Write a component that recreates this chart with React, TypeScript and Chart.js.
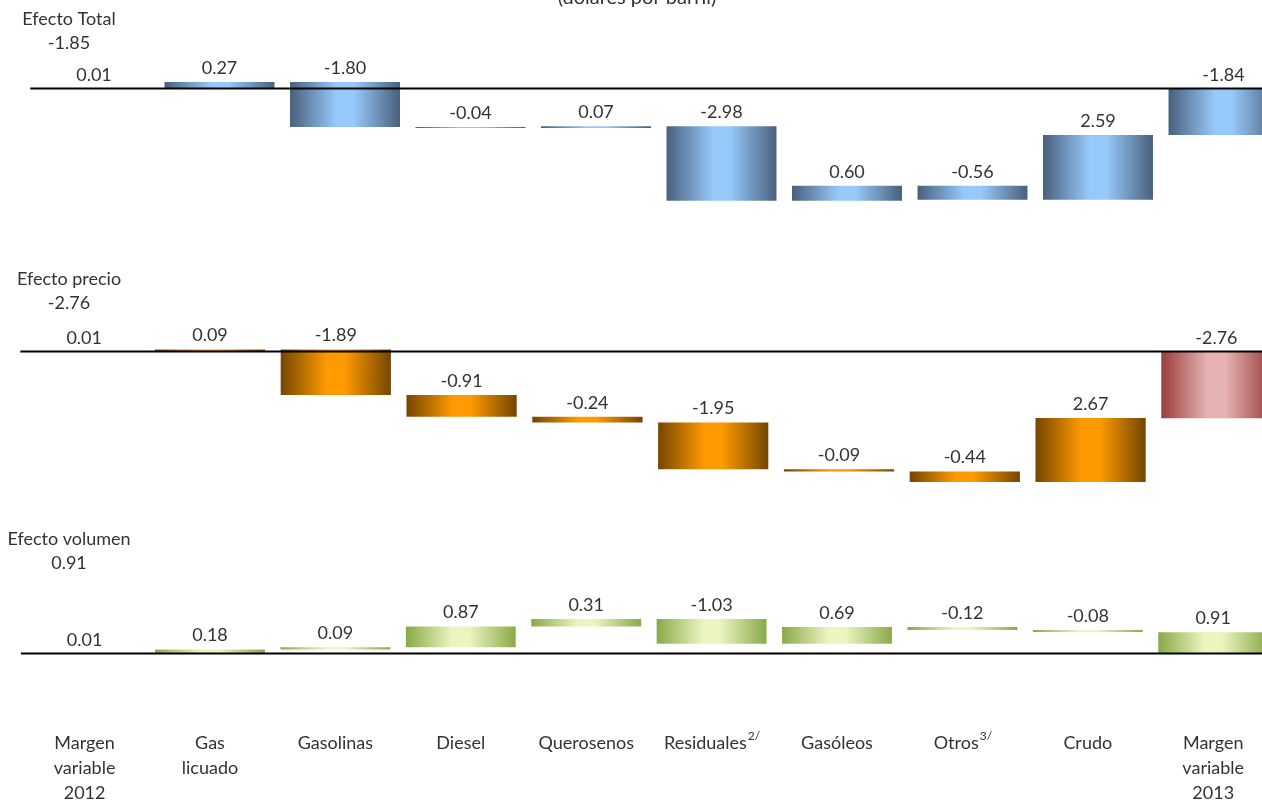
import React, { useEffect, useRef } from "react";
import { Chart, registerables } from "chart.js";

Chart.register(...registerables);

// ---------- data ----------
const categories: string[][] = [
  ["Margen", "variable", "2012"],
  ["Gas", "licuado"],
  ["Gasolinas"],
  ["Diesel"],
  ["Querosenos"],
  ["Residuales"],
  ["Gasóleos"],
  ["Otros"],
  ["Crudo"],
  ["Margen", "variable", "2013"],
];
const categorySuperscripts = ["", "", "", "", "", "2/", "", "3/", "", ""];

const totalEffect = [0.01, 0.27, -1.8, -0.04, 0.07, -2.98, 0.6, -0.56, 2.59, -1.84];
const priceEffect = [0.01, 0.09, -1.89, -0.91, -0.24, -1.95, -0.09, -0.44, 2.67, -2.76];
const volumeEffect = [0.01, 0.18, 0.09, 0.87, 0.31, -1.03, 0.69, -0.12, -0.08, 0.91];

const panelTitles = ["Efecto Total", "Efecto precio", "Efecto volumen"];
const panelTotals = ["-1.85", "-2.76", "0.91"];
const chartSubtitle = "(dólares por barril)";

// ---------- styling ----------
const FONT = "Lato, 'Open Sans', sans-serif";
const TEXT_COLOR = "#333333";
const BAR_PCT = 0.876;
const CANVAS_W = 1300;

function waterfallRanges(values: number[]): [number, number][] {
  const out: [number, number][] = [];
  let cum = 0;
  values.forEach((v, i) => {
    if (i === 0 || i === values.length - 1) {
      out.push([0, v]);
      cum = v;
    } else {
      out.push([cum, cum + v]);
      cum = cum + v;
    }
  });
  return out;
}

type PanelProps = {
  top: number;
  height: number;
  padLeft: number;
  plotWidth: number;
  yMin: number;
  yMax: number;
  values: number[];
  title: string;
  total: string;
  colors: [string, string];
  lastColors?: [string, string];
  showCategories?: boolean;
  showSubtitle?: boolean;
};

function Panel(p: PanelProps) {
  const ref = useRef<HTMLCanvasElement>(null);

  useEffect(() => {
    if (!ref.current) return;
    const ranges = waterfallRanges(p.values);
    const pairFor = (idx: number) =>
      p.lastColors && idx === p.values.length - 1 ? p.lastColors : p.colors;

    // scriptable so that each bar gets its own options object
    const baseColor = (c: any) => pairFor(c.dataIndex ?? 0)[1];

    const gradientPlugin = {
      id: "barGradients",
      beforeDatasetsDraw(chart: any) {
        const ctx = chart.ctx;
        const meta = chart.getDatasetMeta(0);
        meta.data.forEach((el: any, i: number) => {
          const half = el.width / 2;
          if (!Number.isFinite(el.x) || !Number.isFinite(half)) return;
          const pair = pairFor(i);
          const g = ctx.createLinearGradient(el.x - half, 0, el.x + half, 0);
          g.addColorStop(0, pair[0]);
          g.addColorStop(0.42, pair[1]);
          g.addColorStop(0.58, pair[1]);
          g.addColorStop(1, pair[0]);
          el.options.backgroundColor = g;
        });
      },
    };

    const textPlugin = {
      id: "panelText",
      afterDatasetsDraw(chart: any) {
        const ctx = chart.ctx;
        const xs = chart.scales.x;
        const ys = chart.scales.y;
        const area = chart.chartArea;
        const y0 = ys.getPixelForValue(0);
        ctx.save();
        ctx.strokeStyle = "#000";
        ctx.lineWidth = 2;
        ctx.beginPath();
        ctx.moveTo(area.left - 1, y0 - 0.5);
        ctx.lineTo(area.right, y0 - 0.5);
        ctx.stroke();

        ctx.fillStyle = TEXT_COLOR;
        ctx.textAlign = "center";
        ctx.textBaseline = "middle";
        ctx.font = `18px ${FONT}`;

        ctx.fillText(p.title, 69, 19);
        ctx.fillText(p.total, 69, 43);

        const meta = chart.getDatasetMeta(0);
        meta.data.forEach((el: any, i: number) => {
          const topY = Math.min(el.y, el.base);
          ctx.fillText(p.values[i].toFixed(2), el.x, topY - 14);
        });

        if (p.showSubtitle) {
          ctx.font = `20px ${FONT}`;
          ctx.textBaseline = "alphabetic";
          ctx.fillText(chartSubtitle, 637, 4);
        }

        if (p.showCategories) {
          ctx.textBaseline = "middle";
          categories.forEach((lines, i) => {
            const cx = xs.getPixelForValue(i);
            lines.forEach((line, li) => {
              const y = 223 + li * 25;
              const sup = li === lines.length - 1 ? categorySuperscripts[i] : "";
              ctx.font = `18px ${FONT}`;
              const w1 = ctx.measureText(line).width;
              ctx.font = `12px ${FONT}`;
              const w2 = sup ? ctx.measureText(sup).width : 0;
              const start = cx - (w1 + w2) / 2;
              ctx.textAlign = "left";
              ctx.font = `18px ${FONT}`;
              ctx.fillText(line, start, y);
              if (sup) {
                ctx.font = `12px ${FONT}`;
                ctx.fillText(sup, start + w1 + 1, y - 7);
              }
            });
          });
        }
        ctx.restore();
      },
    };

    const chart = new Chart(ref.current, {
      type: "bar",
      data: {
        labels: categories.map((c) => c.join(" ")),
        datasets: [
          {
            data: ranges as any,
            backgroundColor: baseColor as any,
            borderWidth: 0,
            barPercentage: BAR_PCT,
            categoryPercentage: 1,
          },
        ],
      },
      options: {
        animation: false,
        responsive: true,
        maintainAspectRatio: false,
        layout: {
          padding: {
            left: p.padLeft,
            right: CANVAS_W - p.padLeft - p.plotWidth,
            top: 0,
            bottom: 0,
          },
        },
        plugins: {
          legend: { display: false },
          tooltip: { enabled: false },
          title: { display: false },
        },
        scales: {
          x: { type: "category", display: false, offset: true },
          y: { type: "linear", display: false, min: p.yMin, max: p.yMax },
        },
      },
      plugins: [gradientPlugin, textPlugin],
    });
    return () => chart.destroy();
  }, []);

  return (
    <div
      style={{
        position: "absolute",
        left: 0,
        top: p.top,
        width: CANVAS_W,
        height: p.height,
      }}
    >
      <canvas ref={ref} />
    </div>
  );
}

export default function App() {
  return (
    <div
      style={{
        position: "fixed",
        left: 0,
        top: 0,
        width: 1262,
        height: 802,
        overflow: "hidden",
        background: "#ffffff",
      }}
    >
      <Panel
        top={0}
        height={260}
        padLeft={31.25}
        plotWidth={1255}
        yMin={-(260 - 89) / 25}
        yMax={89 / 25}
        values={totalEffect}
        title={panelTitles[0]}
        total={panelTotals[0]}
        colors={["#48607c", "#96c8fa"]}
        showSubtitle
      />
      <Panel
        top={260}
        height={260}
        padLeft={21.3}
        plotWidth={1258}
        yMin={-168 / 24}
        yMax={92 / 24}
        values={priceEffect}
        title={panelTitles[1]}
        total={panelTotals[1]}
        colors={["#744600", "#ff9a00"]}
        lastColors={["#9a3c3c", "#e6b3b3"]}
      />
      <Panel
        top={520}
        height={282}
        padLeft={21.9}
        plotWidth={1254}
        yMin={-148 / 24}
        yMax={134 / 24}
        values={volumeEffect}
        title={panelTitles[2]}
        total={panelTotals[2]}
        colors={["#8aa848", "#eaf5bf"]}
        showCategories
      />
    </div>
  );
}
